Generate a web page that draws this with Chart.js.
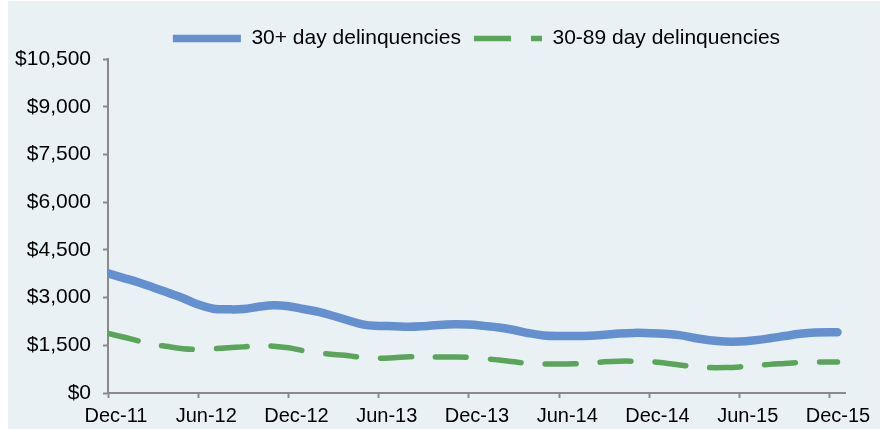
<!DOCTYPE html>
<html>
<head>
<meta charset="utf-8">
<script src="https://cdn.jsdelivr.net/npm/chart.js@4"></script>
<style>
  body { margin: 0; background: #ffffff; }
  #wrap { position: absolute; left: 8px; top: 1px; width: 872px; height: 428px; background: #e9f1f5; }
</style>
</head>
<body>
<div id="wrap"><canvas id="chart" width="872" height="428"></canvas></div>
<script>
// months after Dec-11
const months = [0,1,2,3,4,5,6,7,8,9,10,11,12,13,14,15,16,17,18,19,20,21,22,23,24,
                25,26,27,28,29,30,31,32,33,34,35,36,37,38,39,40,41,42,43,44,45,46,47,48.5];
const tick_labels = ['Dec-11','Jun-12','Dec-12','Jun-13','Dec-13','Jun-14','Dec-14','Jun-15','Dec-15'];

const delinq_30_plus = [3760,3620,3480,3320,3150,2980,2780,2650,2630,2640,2710,2760,2730,2640,2550,2420,2280,2150,2110,2100,2080,2100,2140,2160,2150,
                        2110,2060,1980,1880,1810,1790,1790,1800,1830,1870,1890,1880,1860,1820,1730,1660,1620,1620,1660,1720,1790,1860,1900,1910];
const delinq_30_89 = [1870,1760,1640,1530,1460,1390,1370,1390,1420,1450,1480,1470,1420,1330,1260,1210,1170,1110,1090,1110,1140,1140,1130,1130,1120,
                      1080,1040,980,930,910,910,920,940,980,1000,1000,990,940,880,830,800,800,820,860,900,930,960,970,975];

const FONT = "'Liberation Sans', Arial, sans-serif";
const AXIS_GRAY = '#8a8a8a';

function to_points(values) {
    return values.map((v, i) => ({ x: months[i], y: v }));
}

new Chart(document.getElementById('chart'), {
    type: 'line',
    data: {
        datasets: [{
            label: '30+ day delinquencies',
            data: to_points(delinq_30_plus),
            borderColor: '#6490cf',
            backgroundColor: '#6490cf',
            borderWidth: 8.5,
            borderCapStyle: 'round',
            pointRadius: 0,
            tension: 0.4
        }, {
            label: '30-89 day delinquencies',
            data: to_points(delinq_30_89),
            borderColor: '#5aa55a',
            backgroundColor: '#5aa55a',
            borderWidth: 5.5,
            borderDash: [31, 24],
            borderCapStyle: 'round',
            pointRadius: 0,
            tension: 0.4
        }]
    },
    options: {
        responsive: false,
        animation: false,
        devicePixelRatio: 1,
        layout: { padding: { top: 14, right: 35, left: 0, bottom: 0 } },
        plugins: {
            tooltip: { enabled: false },
            legend: {
                position: 'top',
                fullSize: false,
                labels: {
                    usePointStyle: true,
                    pointStyle: 'line',
                    pointStyleWidth: 68,
                    color: '#000',
                    padding: 13,
                    font: { family: FONT, size: 21 },
                    generateLabels: (chart) => {
                        const items = Chart.defaults.plugins.legend.labels.generateLabels(chart);
                        items.forEach((it, i) => {
                            if (i == 0) it.lineWidth = 7.5;
                            else it.lineDash = [37, 20];
                        });
                        return items;
                    }
                }
            }
        },
        scales: {
            x: {
                type: 'linear',
                min: 0,
                max: 49,
                afterFit: (scale) => { scale.height = 36; },
                afterBuildTicks: (scale) => {
                    scale.ticks = tick_labels.map((l, i) => ({ value: i * 6 }));
                },
                ticks: {
                    autoSkip: false,
                    maxRotation: 0,
                    color: '#000',
                    padding: 6,
                    labelOffset: 8,
                    font: { family: FONT, size: 20 },
                    callback: (v) => tick_labels[v / 6]
                },
                grid: { drawOnChartArea: false, drawTicks: true, tickLength: 5, tickWidth: 2, tickColor: AXIS_GRAY },
                border: { display: true, color: AXIS_GRAY, width: 2 }
            },
            y: {
                min: 0,
                max: 10500,
                afterFit: (scale) => { scale.width = 100; },
                ticks: {
                    stepSize: 1500,
                    color: '#000',
                    padding: 12,
                    font: { family: FONT, size: 21 },
                    callback: (v) => '$' + v.toLocaleString('en-US')
                },
                grid: { drawOnChartArea: false, drawTicks: true, tickLength: 5, tickWidth: 2, tickColor: AXIS_GRAY },
                border: { display: true, color: AXIS_GRAY, width: 2 }
            }
        }
    }
});
</script>
</body>
</html>
